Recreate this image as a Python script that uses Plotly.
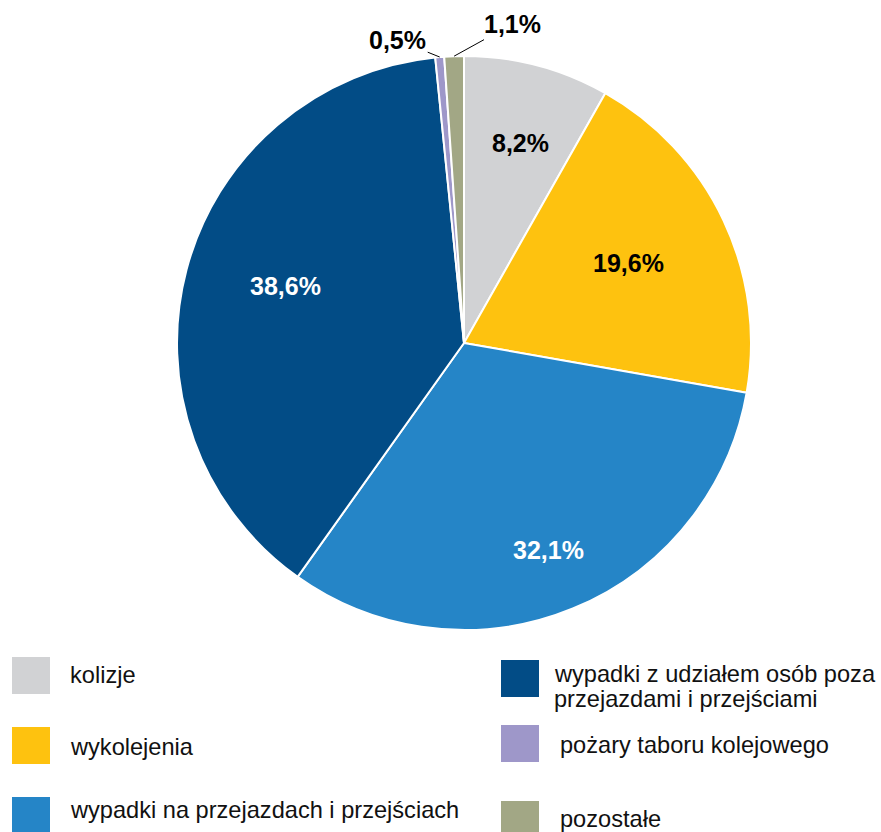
import math
import plotly.graph_objects as go

# Data
categories = [
    "kolizje",
    "wykolejenia",
    "wypadki na przejazdach i przejściach",
    "wypadki z udziałem osób poza przejazdami i przejściami",
    "pożary taboru kolejowego",
    "pozostałe",
]
shares = [8.2, 19.6, 32.1, 38.6, 0.5, 1.1]
colors = ["#D1D2D4", "#FEC20F", "#2585C7", "#024C86", "#9E97C9", "#A2A785"]
label_colors = ["black", "black", "white", "white", "black", "black"]

W, H = 881, 832
FONT = "Liberation Sans, Arial"

# pie geometry in pixels
cx, cy, r = 464, 343, 287


def px(x):
    return x / W


def py(y):
    return 1 - y / H


fig = go.Figure()

fig.add_trace(
    go.Pie(
        labels=categories,
        values=shares,
        sort=False,
        direction="clockwise",
        rotation=0,
        marker=dict(colors=colors, line=dict(color="white", width=2)),
        textinfo="none",
        hoverinfo="label+percent",
        showlegend=False,
        domain=dict(x=[px(cx - r), px(cx + r)], y=[py(cy + r), py(cy - r)]),
    )
)

# percentage labels, placed along each slice's middle angle
total = sum(shares)
cum = 0
for i, v in enumerate(shares):
    ang = math.radians((cum + v / 2) / total * 360)
    cum += v
    txt = f"{v:.1f}%".replace(".", ",")
    font = dict(family=FONT, size=25, color=label_colors[i], weight="bold")
    if v > 5:
        k = 0.78 * r
        fig.add_annotation(
            x=px(cx + k * math.sin(ang)), y=py(cy - k * math.cos(ang)),
            xref="paper", yref="paper", text=txt, showarrow=False,
            font=font,
        )
    else:
        # small slices: label outside with a thin leader line
        ex, ey = cx + r * math.sin(ang), cy - r * math.cos(ang)
        if i == 4:
            ax, ay = -42, -17
        else:
            ax, ay = 58, -32
        fig.add_annotation(
            x=px(ex), y=py(ey), xref="paper", yref="paper", text=txt,
            showarrow=True, arrowhead=0, arrowwidth=1, arrowcolor="black",
            ax=ax, ay=ay, font=font, standoff=0,
        )

# legend drawn by hand: two columns of tall swatches
legend_cols = [0, 0, 0, 1, 1, 1]
legend_rows_top = [657, 727, 797, 660, 725, 801]
legend_lines = [
    ["kolizje"],
    ["wykolejenia"],
    ["wypadki na przejazdach i przejściach"],
    ["wypadki z udziałem osób poza", "przejazdami i przejściami"],
    ["pożary taboru kolejowego"],
    ["pozostałe"],
]
legend_text_mid = [675, 747, 810, 674, 745, 819]
col_x = [12, 501]
text_x = [[68, 68, 68], [552, 558, 558]]

for i, col in enumerate(colors):
    c = legend_cols[i]
    top = legend_rows_top[i]
    fig.add_shape(
        type="rect", xref="paper", yref="paper",
        x0=px(col_x[c]), x1=px(col_x[c] + 38),
        y0=py(top + 37), y1=py(top),
        fillcolor=col, line=dict(width=0),
    )
    for j, line in enumerate(legend_lines[i]):
        fig.add_annotation(
            x=px(text_x[c][i % 3]), y=py(legend_text_mid[i] + 25 * j),
            xref="paper", yref="paper", text=line,
            showarrow=False, xanchor="left", yanchor="middle",
            font=dict(family=FONT, size=23.6, color="#111111"),
        )

fig.update_layout(
    width=W, height=H,
    margin=dict(l=0, r=0, t=0, b=0),
    paper_bgcolor="white",
    plot_bgcolor="white",
)

fig.write_html(
    "out.html",
    config={"displayModeBar": False},
    post_script="document.body.style.margin='0';",
)
